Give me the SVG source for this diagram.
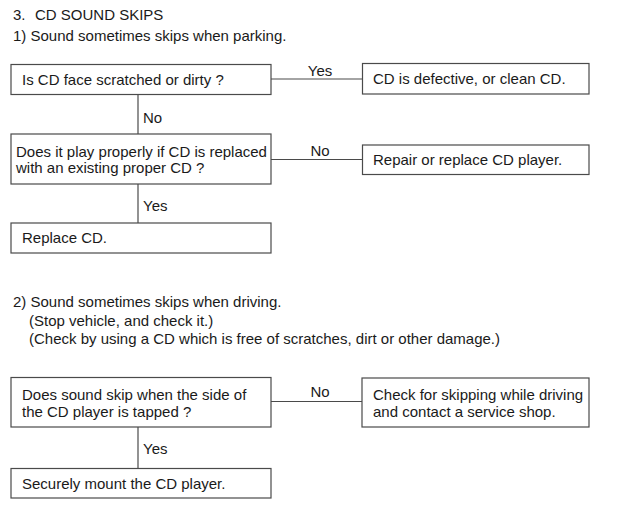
<svg xmlns="http://www.w3.org/2000/svg" width="621" height="508" viewBox="0 0 621 508">
<style>
  text { font-family: "Liberation Sans", Arial, sans-serif; font-size: 15px; fill: #1a1a1a; }
  .box { fill: #ffffff; stroke: #4a4a4a; stroke-width: 1.2; }
  .conn { stroke: #4a4a4a; stroke-width: 1.2; fill: none; }
  .mid { text-anchor: middle; }
</style>
<rect x="0" y="0" width="621" height="508" fill="#ffffff"/>

<g id="headings">
  <text x="13" y="20">3.</text>
  <text x="35" y="20">CD SOUND SKIPS</text>
  <text x="13" y="41">1) Sound sometimes skips when parking.</text>
  <text x="13" y="307">2) Sound sometimes skips when driving.</text>
  <text x="29" y="326">(Stop vehicle, and check it.)</text>
  <text x="29" y="344">(Check by using a CD which is free of scratches, dirt or other damage.)</text>
</g>

<g id="connectors">
  <line class="conn" x1="271" y1="79" x2="362.5" y2="79"/>
  <text class="mid" x="320" y="76">Yes</text>
  <line class="conn" x1="138" y1="94.5" x2="138" y2="134"/>
  <text x="143" y="123">No</text>
  <line class="conn" x1="271" y1="159.5" x2="362.5" y2="159.5"/>
  <text class="mid" x="320" y="156">No</text>
  <line class="conn" x1="138" y1="184" x2="138" y2="223"/>
  <text x="143" y="211">Yes</text>
  <line class="conn" x1="271" y1="401.5" x2="362" y2="401.5"/>
  <text class="mid" x="320" y="397">No</text>
  <line class="conn" x1="138" y1="427" x2="138" y2="468.5"/>
  <text x="143" y="454">Yes</text>
</g>

<g id="node-a">
  <rect class="box" x="11" y="64.5" width="260" height="30"/>
  <text x="22" y="85">Is CD face scratched or dirty ?</text>
</g>
<g id="node-b">
  <rect class="box" x="362.5" y="63.5" width="226.5" height="30.5"/>
  <text x="373" y="84">CD is defective, or clean CD.</text>
</g>
<g id="node-d">
  <rect class="box" x="11" y="134" width="260" height="50"/>
  <text x="16" y="157">Does it play properly if CD is replaced</text>
  <text x="16" y="173">with an existing proper CD ?</text>
</g>
<g id="node-c">
  <rect class="box" x="362.5" y="145" width="226.5" height="29.5"/>
  <text x="373" y="165">Repair or replace CD player.</text>
</g>
<g id="node-e">
  <rect class="box" x="11" y="223" width="260" height="30"/>
  <text x="22" y="243">Replace CD.</text>
</g>
<g id="node-f">
  <rect class="box" x="11" y="377.5" width="260" height="49.5"/>
  <text x="22" y="400">Does sound skip when the side of</text>
  <text x="22" y="417">the CD player is tapped ?</text>
</g>
<g id="node-g">
  <rect class="box" x="362" y="378" width="227" height="49"/>
  <text x="373" y="400">Check for skipping while driving</text>
  <text x="373" y="417">and contact a service shop.</text>
</g>
<g id="node-h">
  <rect class="box" x="11" y="468.5" width="260" height="29.5"/>
  <text x="22" y="489">Securely mount the CD player.</text>
</g>
</svg>
